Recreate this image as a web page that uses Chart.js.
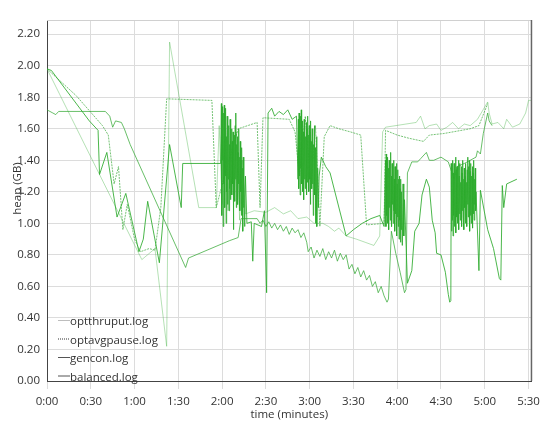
<!DOCTYPE html>
<html lang="en"><head><meta charset="UTF-8">
<title>heap over time</title>
<script src="https://cdn.jsdelivr.net/npm/chart.js@4.4.1/dist/chart.umd.min.js"></script>
<style>
*{box-sizing:border-box;margin:0;padding:0;}
body{background:#fff;}
.wrap{width:546px;height:432px;position:relative;}
</style></head>
<body><div class="wrap"><canvas id="heap"></canvas></div>
<script>
// series: [seconds, GB]
const seriesNames = ['optthruput.log', 'optavgpause.log', 'gencon.log', 'balanced.log'];
const xTicks = [0, 30, 60, 90, 120, 150, 180, 210, 240, 270, 300, 330];
const yTicks = [0, 0.2, 0.4, 0.6, 0.8, 1.0, 1.2, 1.4, 1.6, 1.8, 2.0, 2.2];

const optthruput = [
  [0,1.98],[65,0.77],[74,0.84],[82,0.22],[84,2.15],[104,1.10],[116,1.10],[118,1.62],[120,1.12],[122,1.70],
  [124,1.08],[126,1.52],[128,1.15],[130,1.58],[132,1.02],[134,1.40],[136,1.06],[142,1.08],[150,1.07],[156,1.10],
  [162,1.06],[167,1.08],[172,1.03],[178,1.04],[183,1.00],[189,1.00],[193,0.98],[197,0.95],[200,0.97],[205,0.92],
  [212,0.90],[218,0.88],[224,0.86],[228,0.92],[230,1.58],[232,1.61],[246,1.63],[253,1.64],[256,1.68],[259,1.60],
  [262,1.62],[267,1.63],[270,1.59],[274,1.61],[278,1.64],[282,1.60],[286,1.63],[290,1.62],[295,1.66],[302,1.77],
  [303,1.70],[305,1.63],[309,1.64],[313,1.60],[315,1.66],[319,1.61],[324,1.63],[328,1.70],[330,1.78],[332,1.78]
];

const optavgpause = [
  [0,1.98],[20,1.81],[38,1.62],[42,1.56],[46,1.25],[49,1.36],[52,0.96],[55,1.12],[60,0.90],[64,0.82],
  [70,0.84],[74,0.83],[78,1.10],[82,1.79],[113,1.78],[116,1.10],[121,1.28],[131,1.60],[144,1.64],[146,1.10],
  [148,1.67],[166,1.66],[170,1.58],[173,1.30],[177,1.68],[181,1.22],[184,1.62],[187,0.98],[190,1.55],[194,1.62],
  [200,1.60],[208,1.58],[215,1.56],[219,0.99],[231,1.00],[232,1.59],[240,1.56],[248,1.54],[258,1.52],[262,1.56],
  [272,1.57],[290,1.60],[296,1.62],[302,1.76]
];

const gencon = [
  [0,1.72],[4,1.70],[6,1.69],[8,1.71],[40,1.71],[43,1.68],[45,1.61],[47,1.65],[51,1.64],[53,1.60],
  [57,1.50],[95,0.72],[97,0.78],[125,0.89],[131,0.91],[133,1.03],[144,1.03],[146,1.00],[148,1.02],[150,0.98],
  [152,1.01],[154,0.97],[156,1.00],[158,0.96],[160,0.99],[162,0.95],[164,0.98],[166,0.93],[168,0.97],[170,0.94],
  [172,0.96],[174,0.91],[176,0.94],[178,0.88],[179,0.82],[181,0.85],[183,0.78],[185,0.83],[187,0.79],[189,0.84],
  [191,0.77],[193,0.82],[195,0.78],[197,0.83],[199,0.76],[201,0.81],[203,0.77],[205,0.80],[207,0.71],[209,0.74],
  [211,0.68],[213,0.72],[215,0.66],[217,0.70],[219,0.64],[221,0.67],[223,0.60],[225,0.63],[227,0.56],[229,0.60],
  [231,0.54],[233,0.50],[234,0.52],[236,0.95],[239,0.81],[242,0.69],[245,0.56],[246,0.58],[247,1.32],[250,1.39],
  [254,1.39],[256,1.41],[260,1.45],[262,1.40],[265,1.40],[270,1.42],[275,1.39],[279,1.28],[281,1.36],[286,1.38],
  [290,1.40],[294,1.42],[295,1.46],[297,1.44],[299,1.57],[302,1.70],[303,1.65],[305,1.62]
];

const balanced = [
  [0,1.98],[3,1.97],[29,1.65],[35,1.59],[36,1.31],[41,1.45],[48,1.04],[54,1.19],[63,0.82],[66,0.90],
  [69,1.14],[77,0.75],[84,1.50],[92,1.10],[93,1.38],[119,1.38],
  // 2:00 burst
  [119.5,1.76],[119.75,1.05],[120,1.74],[120.25,1.40],[120.5,1.72],[120.75,0.98],[121,1.70],[121.25,1.25],[121.5,1.75],[121.75,1.10],
  [122,1.60],[122.25,1.30],[122.5,1.73],[122.75,1.00],[123,1.55],[123.25,1.20],[123.5,1.68],[123.75,1.12],[124,1.58],[124.25,1.28],
  [124.5,1.62],[124.75,1.08],[125,1.50],[125.25,1.22],[125.5,1.66],[125.75,1.15],[126,1.55],[126.25,1.30],[126.5,1.60],[126.75,1.18],
  [127,1.52],[127.25,1.25],[127.5,1.58],[127.75,0.96],[128,1.48],[128.25,1.20],[128.5,1.56],[128.75,1.14],[129,1.62],[129.25,1.28],
  [129.5,1.70],[129.75,1.10],[130,1.50],[130.25,1.22],[130.5,1.55],[130.75,1.12],[131,1.45],[131.25,1.25],[131.5,1.60],[131.75,1.15],
  [132,1.42],[132.25,1.08],[132.5,1.52],[132.75,1.20],[133,1.40],[133.25,1.05],[133.5,1.48],[133.75,1.15],[134,1.35],[134.25,0.95],
  [134.5,1.42],[134.75,1.10],[135,1.30],[135.5,0.98],[136,1.30],[137,1.00],
  [140,1.01],[141,0.76],[142,1.00],[147,0.98],[149,1.08],[150.5,0.56],[151.5,1.70],[154,1.73],[156,1.68],[159,1.71],
  [162,1.69],[165,1.72],[168,1.66],[171,1.68],
  // 2:55 burst
  [172,1.28],[172.25,1.66],[172.5,1.22],[172.75,1.70],[173,1.30],[173.25,1.62],[173.5,1.18],[173.75,1.68],[174,1.35],[174.25,1.72],
  [174.5,1.25],[174.75,1.60],[175,1.20],[175.25,1.65],[175.5,1.32],[175.75,1.58],[176,1.15],[176.25,1.66],[176.5,1.28],[176.75,1.62],
  [177,1.22],[177.25,1.55],[177.5,1.30],[177.75,1.64],[178,1.18],[178.25,1.60],[178.5,1.26],[178.75,1.68],[179,1.35],[179.25,1.56],
  [179.5,1.20],[179.75,1.62],[180,1.28],[180.25,1.58],[180.5,1.12],[180.75,1.65],[181,1.30],[181.25,1.52],[181.5,1.22],[181.75,1.60],
  [182,1.25],[182.25,1.55],[182.5,1.05],[182.75,1.50],[183,1.28],[183.25,1.62],[183.5,1.18],[183.75,1.48],[184,1.00],[184.25,1.45],
  [184.5,1.22],[184.75,1.55],[185,0.98],[185.5,1.35],[186,1.10],[186.5,1.30],
  [188,1.42],[191,1.36],[194,1.32],[205,0.92],[210,0.96],[216,1.00],[222,1.03],[228,1.05],[231,0.98],
  // 3:52 burst
  [232,1.40],[232.25,0.98],[232.5,1.44],[232.75,1.05],[233,1.38],[233.25,1.00],[233.5,1.42],[233.75,1.08],[234,1.35],[234.25,0.96],
  [234.5,1.40],[234.75,1.10],[235,1.32],[235.25,1.02],[235.5,1.45],[235.75,1.05],[236,1.30],[236.25,0.98],[236.5,1.38],[236.75,1.12],
  [237,1.34],[237.25,1.00],[237.5,1.40],[237.75,1.08],[238,1.28],[238.25,0.95],[238.5,1.36],[238.75,1.06],[239,1.30],[239.25,1.02],
  [239.5,1.38],[239.75,0.92],[240,1.25],[240.25,1.04],[240.5,1.34],[240.75,0.98],[241,1.28],[241.25,0.90],[241.5,1.30],[241.75,1.02],
  [242,1.22],[242.25,0.88],[242.5,1.28],[242.75,0.96],[243,1.20],[243.5,0.86],[244,1.25],[244.5,0.92],[245,1.15],
  [247,0.62],[250,0.70],[252,0.95],[255,1.00],[257,1.18],[260,1.28],[262,1.23],[264,1.02],[266,0.94],[267,0.81],
  [270,0.80],[273,0.69],[275,0.55],[276,0.50],[276.75,0.51],
  // 4:40 burst
  [277,1.38],[277.25,0.95],[277.5,1.36],[277.75,1.02],[278,1.40],[278.25,0.92],[278.5,1.32],[278.75,1.05],[279,1.38],[279.25,0.98],
  [279.5,1.30],[279.75,1.08],[280,1.42],[280.25,0.94],[280.5,1.34],[280.75,1.04],[281,1.36],[281.25,1.00],[281.5,1.28],[281.75,1.10],
  [282,1.40],[282.25,0.96],[282.5,1.30],[282.75,1.06],[283,1.38],[283.25,1.02],[283.5,1.26],[283.75,1.12],[284,1.36],[284.25,0.98],
  [284.5,1.32],[284.75,1.08],[285,1.40],[285.25,1.04],[285.5,1.28],[285.75,0.96],[286,1.35],[286.25,1.10],[286.5,1.30],[286.75,1.00],
  [287,1.38],[287.25,1.06],[287.5,1.26],[287.75,0.98],[288,1.34],[288.25,1.12],[288.5,1.42],[288.75,1.04],[289,1.36],[289.25,1.08],
  [289.5,1.40],[289.75,0.95],[290,1.33],[290.25,1.05],[290.5,1.38],[290.75,1.00],[291,1.30],[291.25,1.10],[291.5,1.36],[291.75,0.97],
  [292,1.32],[292.25,1.06],[292.5,1.40],[292.75,1.02],[293,1.28],[293.25,1.12],[293.5,1.35],[293.75,1.08],[294,1.20],
  [296,0.70],[297,1.21],[302,0.96],[306,0.84],[310,0.65],[311,0.64],[312,1.24],[313,1.10],[315,1.25],[322,1.28]
];

const xMax = 332, yMax = 2.29;

const FONT = '"Open Sans", "Noto Sans", sans-serif';
const FSIZE = 11.5;
const pts = arr => arr.map(p => ({x: p[0], y: p[1]}));
const fmtTime = s => Math.floor(s / 60) + ':' + String(s % 60).padStart(2, '0');

// legend drawn inside the plot, lower left; y title sits a bit above centre
const insideLegend = {
  id: 'insideLegend',
  afterDraw(chart) {
    const {ctx, chartArea: a} = chart;
    const samples = [
      {color: '#bdbdbd', dash: []},
      {color: '#333', dash: [1, 1]},
      {color: '#555', dash: []},
      {color: '#555', dash: []}
    ];
    ctx.save();
    ctx.font = FSIZE + 'px ' + FONT;
    ctx.fillStyle = '#333';
    ctx.textBaseline = 'middle';
    seriesNames.forEach((name, i) => {
      const y = a.bottom - 59 + i * 18.5;
      ctx.strokeStyle = samples[i].color;
      ctx.setLineDash(samples[i].dash);
      ctx.lineWidth = 1;
      ctx.beginPath();
      ctx.moveTo(a.left + 11, y - 1.5);
      ctx.lineTo(a.left + 23, y - 1.5);
      ctx.stroke();
      ctx.fillText(name, a.left + 23, y);
    });
    ctx.translate(18, (a.top + a.bottom) / 2 - 12);
    ctx.rotate(-Math.PI / 2);
    ctx.textAlign = 'center';
    ctx.fillText('heap (GB)', 0, 0);
    ctx.restore();
  }
};

// top and right frame lines
const frame = {
  id: 'frame',
  beforeDatasetsDraw(chart) {
    const {ctx, chartArea: a} = chart;
    ctx.save();
    ctx.lineWidth = 1;
    ctx.strokeStyle = '#d0d0d0';
    ctx.beginPath(); ctx.moveTo(a.left, a.top + 0.5); ctx.lineTo(a.right, a.top + 0.5); ctx.stroke();
    ctx.restore();
  },
  afterDatasetsDraw(chart) {
    const {ctx, chartArea: a} = chart;
    ctx.save();
    ctx.lineWidth = 1.5;
    ctx.strokeStyle = '#666';
    ctx.beginPath(); ctx.moveTo(a.right, a.top); ctx.lineTo(a.right, a.bottom); ctx.stroke();
    ctx.restore();
  }
};

const line = (data, color, dash) => ({
  data: pts(data), borderColor: color, borderWidth: 1, borderDash: dash || [],
  pointRadius: 0, tension: 0, fill: false
});

new Chart(document.getElementById('heap'), {
  type: 'line',
  data: {
    datasets: [
      line(balanced, 'rgba(45,170,45,0.85)'),
      line(gencon, 'rgba(55,170,55,0.75)'),
      line(optavgpause, 'rgba(60,170,60,0.7)', [2, 1]),
      line(optthruput, 'rgba(70,180,70,0.4)')
    ]
  },
  options: {
    responsive: true, maintainAspectRatio: false, animation: false,
    layout: {padding: {top: 20, right: 13, left: 0, bottom: 0}},
    plugins: {legend: {display: false}, tooltip: {enabled: false}},
    scales: {
      x: {
        type: 'linear', min: 0, max: xMax,
        afterFit: s => { s.height = 51; },
        afterBuildTicks: s => { s.ticks = xTicks.map(v => ({value: v})); },
        ticks: {padding: 6, color: '#333', font: {family: FONT, size: FSIZE},
                callback: v => fmtTime(v), maxRotation: 0, autoSkip: false},
        grid: {color: '#dcdcdc', tickLength: 8},
        border: {color: '#444', width: 1},
        title: {display: true, text: 'time (minutes)', color: '#333', font: {family: FONT, size: FSIZE},
                padding: {top: 0, bottom: 10}}
      },
      y: {
        min: 0, max: yMax,
        afterFit: s => { s.width = 47; },
        afterBuildTicks: s => { s.ticks = yTicks.map(v => ({value: v})); },
        ticks: {padding: 7, color: '#333', font: {family: FONT, size: FSIZE},
                callback: v => v.toFixed(2), autoSkip: false},
        grid: {color: '#dcdcdc', drawTicks: false},
        border: {color: '#444', width: 1}
      }
    }
  },
  plugins: [frame, insideLegend]
});
</script>
</body></html>
